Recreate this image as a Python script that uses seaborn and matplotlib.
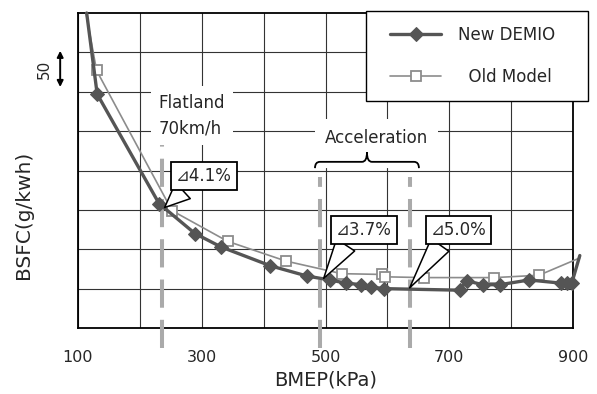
import numpy as np
import seaborn as sns
import matplotlib.pyplot as plt
import matplotlib.patheffects as pe
from matplotlib.path import Path
from matplotlib.patches import PathPatch
from matplotlib.lines import Line2D
from matplotlib.legend_handler import HandlerLine2D

# BMEP (kPa) / BSFC (g/kWh, relative scale: one grid = 50)
new_bmep = [114, 131, 231, 289, 331, 411, 470, 507, 533, 558, 573, 595, 717, 728, 754, 782, 829, 880, 890, 898, 911]
new_bsfc = [600, 497, 358, 320, 303, 279, 266, 261, 257, 255, 252, 250, 248, 260, 255, 255, 261, 257, 257, 257, 292]

old_bmep = [113, 130, 252, 342, 436, 526, 592, 596, 659, 773, 845, 911]
old_bsfc = [600, 527, 349, 310, 285, 269, 268, 265, 264, 264, 267, 289]

x_ticks = [100, 300, 500, 700, 900]
flat_x = 236
accel_x = [491, 637]

callouts = [("\u22bf4.1%", (240, 353), (303, 393)),
            ("\u22bf3.7%", (497, 263), (562, 324)),
            ("\u22bf5.0%", (636, 251), (715, 324))]

sns.set_style("white")
plt.rcParams['font.family'] = ['DejaVu Sans', 'Noto Sans CJK JP']

fig = plt.figure(figsize=(5.97, 3.94), dpi=100)
ax = fig.add_axes([78 / 597, 1 - 328 / 394, 495 / 597, 315 / 394])

sns.lineplot(x=new_bmep, y=new_bsfc, ax=ax, sort=False, color='#555555', lw=2.4,
             marker='D', ms=7, mec='#555555', markevery=slice(1, -1), clip_on=False,
             zorder=5, label='New DEMIO')
sns.lineplot(x=old_bmep, y=old_bsfc, ax=ax, sort=False, color='#8c8c8c', lw=1.2,
             marker='s', ms=7, mfc='white', mec='#8c8c8c', mew=1.3,
             markevery=slice(1, -1), clip_on=False, zorder=4, label='  Old Model')

ax.set_xlim(100, 900)
ax.set_ylim(200, 600)
ax.set_xticks(x_ticks)
ax.set_xticks(np.arange(200, 900, 200), minor=True)
ax.set_yticks(np.arange(250, 600, 50))
ax.set_yticklabels([])
ax.tick_params(axis='x', which='major', length=4, width=1, direction='out', pad=12, labelsize=11.5)
ax.tick_params(axis='x', which='minor', length=0)
ax.tick_params(axis='y', length=0)
ax.grid(True, which='both', color='#333333', lw=0.8)
ax.set_axisbelow(True)
for s in ax.spines.values():
    s.set_color('black')
    s.set_linewidth(1.3)

ax.set_xlabel('BMEP(kPa)', fontsize=14)
ax.xaxis.set_label_coords(0.5, -0.135)
ax.set_ylabel('BSFC(g/kwh)', fontsize=14.5)
ax.yaxis.set_label_coords(-0.09, 0.36)

# dashed markers for operating points
ax.axvline(flat_x, ymin=-0.063, ymax=0.59, clip_on=False, color='#aaaaaa', lw=2.9, dashes=(7, 3), zorder=3)
for xv in accel_x:
    ax.axvline(xv, ymin=-0.063, ymax=0.479, clip_on=False, color='#aaaaaa', lw=2.9, dashes=(7, 3), zorder=3)

ax.text(284, 470, 'Flatland\n70km/h', ha='center', va='center', fontsize=12, linespacing=1.55,
        multialignment='left', zorder=6,
        bbox=dict(boxstyle='square,pad=0.45', fc='white', ec='none'))
ax.text(582, 441, 'Acceleration', ha='center', va='center', fontsize=12, zorder=6,
        bbox=dict(boxstyle='square,pad=0.6', fc='white', ec='none'))

# curly brace under "Acceleration"
x0, x1 = accel_x[0] - 8, accel_x[1] + 14
xm = (x0 + x1) / 2
yb, ye, yt, r = 411, 403, 423, 8
verts = [(x0, ye), (x0, yb), (x0 + r, yb), (xm - r, yb), (xm, yb), (xm, yt),
         (xm, yb), (xm + r, yb), (x1 - r, yb), (x1, yb), (x1, ye)]
codes = [Path.MOVETO, Path.CURVE3, Path.CURVE3, Path.LINETO, Path.CURVE3, Path.CURVE3,
         Path.CURVE3, Path.CURVE3, Path.LINETO, Path.CURVE3, Path.CURVE3]
brace = PathPatch(Path(verts, codes), fc='none', ec='black', lw=1.3, zorder=6,
                  path_effects=[pe.Stroke(linewidth=9, foreground='white'), pe.Normal()])
ax.add_patch(brace)

for label, tip, pos in callouts:
    ax.annotate(label, xy=tip, xytext=pos, ha='center', va='center', fontsize=12, zorder=7,
                bbox=dict(boxstyle='square,pad=0.3', fc='white', ec='black', lw=1.3),
                arrowprops=dict(arrowstyle='wedge,tail_width=1.3,shrink_factor=0.5',
                                fc='white', ec='black', lw=1.1, relpos=(0.24, 0.0),
                                shrinkA=0, shrinkB=0))

# scale indicator "50"
trans = ax.get_yaxis_transform()
ax.text(-0.067, 528, '50', transform=trans, rotation=90, ha='center', va='center', fontsize=11)
ax.annotate('', xy=(-0.036, 552), xytext=(-0.036, 506), xycoords=trans, textcoords=trans,
            annotation_clip=False,
            arrowprops=dict(arrowstyle='<|-|>', color='black', lw=1.4, mutation_scale=9,
                            shrinkA=0, shrinkB=0))

leg = ax.legend(loc='upper left', bbox_to_anchor=(0.582, 0.718, 0.448, 0.289), mode='expand',
                borderaxespad=0, fontsize=12, handlelength=3.6, handletextpad=1.0,
                borderpad=0.9, labelspacing=1.45, frameon=True, fancybox=False,
                edgecolor='black', framealpha=1,
                handler_map={Line2D: HandlerLine2D(xpad=0.55)})
leg.get_frame().set_linewidth(1.0)
leg.set_zorder(10)

fig.savefig('out.png', dpi=100)
